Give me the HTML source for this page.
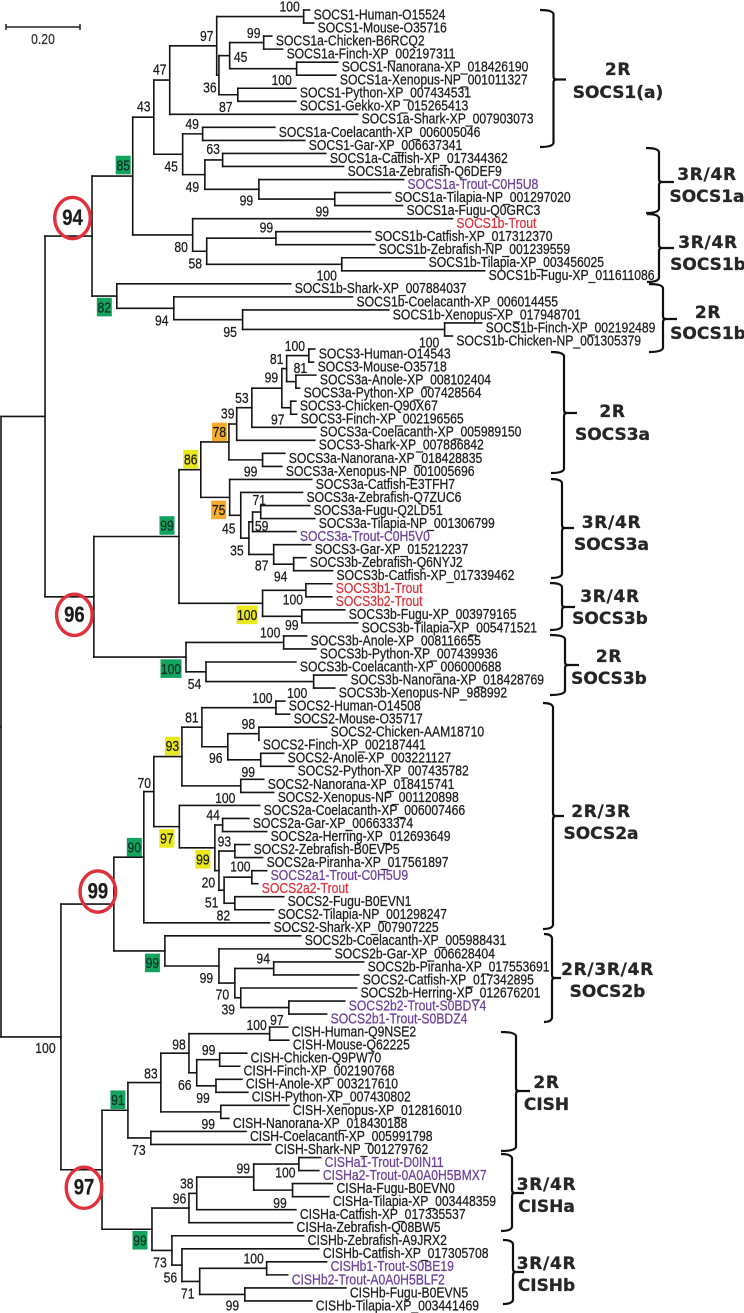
<!DOCTYPE html>
<html lang="en">
<head>
<meta charset="utf-8">
<title>SOCS family phylogenetic tree</title>
<style>
  html, body { margin: 0; padding: 0; background: #fff; }
  #tree { display: block; width: 744px; height: 1313px; background: #fff; }
  .narrow { font-family: "Liberation Sans", Arial, sans-serif; font-size: 14.5px; fill: #1c1c1c; }
  .clade { font-family: "DejaVu Sans", "Liberation Sans", sans-serif; font-weight: 700; font-size: 17px; fill: #262626; stroke: #262626; stroke-width: 0.3px; text-anchor: middle; }
</style>
</head>
<body>
<svg id="tree" xmlns="http://www.w3.org/2000/svg" width="744" height="1313" viewBox="0 0 744 1313"></svg>
<script>
// ---------- DATA ----------
// Taxa in tree order (top to bottom).
const taxa = [
"SOCS1-Human-O15524","SOCS1-Mouse-O35716","SOCS1a-Chicken-B6RCQ2","SOCS1a-Finch-XP_002197311","SOCS1-Nanorana-XP_018426190",
"SOCS1a-Xenopus-NP_001011327","SOCS1-Python-XP_007434531","SOCS1-Gekko-XP_015265413","SOCS1a-Shark-XP_007903073","SOCS1a-Coelacanth-XP_006005046",
"SOCS1-Gar-XP_006637341","SOCS1a-Catfish-XP_017344362","SOCS1a-Zebrafish-Q6DEF9","SOCS1a-Trout-C0H5U8","SOCS1a-Tilapia-NP_001297020",
"SOCS1a-Fugu-Q0GRC3","SOCS1b-Trout","SOCS1b-Catfish-XP_017312370","SOCS1b-Zebrafish-NP_001239559","SOCS1b-Tilapia-XP_003456025",
"SOCS1b-Fugu-XP_011611086","SOCS1b-Shark-XP_007884037","SOCS1b-Coelacanth-XP_006014455","SOCS1b-Xenopus-XP_017948701","SOCS1b-Finch-XP_002192489",
"SOCS1b-Chicken-NP_001305379","SOCS3-Human-O14543","SOCS3-Mouse-O35718","SOCS3a-Anole-XP_008102404","SOCS3a-Python-XP_007428564",
"SOCS3-Chicken-Q90X67","SOCS3-Finch-XP_002196565","SOCS3a-Coelacanth-XP_005989150","SOCS3-Shark-XP_007886842","SOCS3a-Nanorana-XP_018428835",
"SOCS3a-Xenopus-NP_001005696","SOCS3a-Catfish-E3TFH7","SOCS3a-Zebrafish-Q7ZUC6","SOCS3a-Fugu-Q2LD51","SOCS3a-Tilapia-NP_001306799",
"SOCS3a-Trout-C0H5V0","SOCS3-Gar-XP_015212237","SOCS3b-Zebrafish-Q6NYJ2","SOCS3b-Catfish-XP_017339462","SOCS3b1-Trout",
"SOCS3b2-Trout","SOCS3b-Fugu-XP_003979165","SOCS3b-Tilapia-XP_005471521","SOCS3b-Anole-XP_008116655","SOCS3b-Python-XP_007439936",
"SOCS3b-Coelacanth-XP_006000688","SOCS3b-Nanorana-XP_018428769","SOCS3b-Xenopus-NP_988992","SOCS2-Human-O14508","SOCS2-Mouse-O35717",
"SOCS2-Chicken-AAM18710","SOCS2-Finch-XP_002187441","SOCS2-Anole-XP_003221127","SOCS2-Python-XP_007435782","SOCS2-Nanorana-XP_018415741",
"SOCS2-Xenopus-NP_001120898","SOCS2a-Coelacanth-XP_006007466","SOCS2a-Gar-XP_006633374","SOCS2a-Herring-XP_012693649","SOCS2-Zebrafish-B0EVP5",
"SOCS2a-Piranha-XP_017561897","SOCS2a1-Trout-C0H5U9","SOCS2a2-Trout","SOCS2-Fugu-B0EVN1","SOCS2-Tilapia-NP_001298247",
"SOCS2-Shark-XP_007907225","SOCS2b-Coelacanth-XP_005988431","SOCS2b-Gar-XP_006628404","SOCS2b-Piranha-XP_017553691","SOCS2-Catfish-XP_017342895",
"SOCS2b-Herring-XP_012676201","SOCS2b2-Trout-S0BDY4","SOCS2b1-Trout-S0BDZ4","CISH-Human-Q9NSE2","CISH-Mouse-Q62225",
"CISH-Chicken-Q9PW70","CISH-Finch-XP_002190768","CISH-Anole-XP_003217610","CISH-Python-XP_007430802","CISH-Xenopus-XP_012816010",
"CISH-Nanorana-XP_018430188","CISH-Coelacanth-XP_005991798","CISH-Shark-NP_001279762","CISHa1-Trout-D0IN11","CISHa2-Trout-0A0A0H5BMX7",
"CISHa-Fugu-B0EVN0","CISHa-Tilapia-XP_003448359","CISHa-Catfish-XP_017335537","CISHa-Zebrafish-Q08BW5","CISHb-Zebrafish-A9JRX2",
"CISHb-Catfish-XP_017305708","CISHb1-Trout-S0BE19","CISHb2-Trout-A0A0H5BLF2","CISHb-Fugu-B0EVN5","CISHb-Tilapia-XP_003441469"
];

// Root-to-tip distance of each taxon, in 0.01 substitutions/site.
const leafDepths = [
83.4,84.5,73.2,76.1,91.0,90.5,79.7,79.7,96.4,74.0,
82.1,87.8,92.6,108.8,105.3,108.5,122.0,99.9,101.0,114.5,
130.7,78.3,95.0,104.8,129.9,122.0,84.8,84.5,85.1,80.7,
79.7,79.9,85.1,84.8,76.7,75.9,84.0,81.5,83.4,84.8,
79.7,83.7,82.4,89.6,89.4,89.4,92.9,96.4,82.6,85.1,
79.7,93.4,90.2,76.7,78.0,88.0,69.7,76.4,79.1,71.0,
73.7,69.9,67.0,71.8,67.2,70.7,71.8,69.4,76.4,73.7,
72.6,81.0,89.1,98.0,96.7,96.1,92.9,88.0,77.5,77.8,
66.4,64.5,65.1,66.7,77.8,61.6,66.2,72.9,86.4,85.9,
89.6,88.6,79.7,78.8,81.8,85.9,88.0,77.5,93.2,84.0
];

// Tree shape: "(" opens an internal node (preorder), "L" is the next taxon.
const topologyParts = [
"(((",                                   // root, node 1, node 2
"(",                                     // node 3
"(",                                     // node 4
"(((LL)(((LL)(LL))(LL)))L)",
"((LL)((LL)(L(LL))))",
")",
"(L((LL)(LL)))",
")",
"(L(L(L(LL))))",
")",
"(",                                     // node 27
"(",
"(",
"(",
"(((((LL)(LL))(LL))L)L)",
"(LL)",
")",
"(L(L(((LL)L)(L(LL)))))",
")",
"((LL)(LL))",
")",
"((LL)(L(LL)))",
")",
")",
"(",                                     // node 53
"(",
"(",
"(",
"(",
"((LL)((LL)(LL)))",
"(LL)",
")",
"(L((LL)((LL)((LL)(LL)))))",
")",
"L)",
"(L(L((LL)(L(LL)))))",
")",
"(",                                     // node 78
"(",
"(",
"((LL)((LL)(LL)))",
"(LL)",
")",
"(LL)",
")",
"(",
"((((LL)(LL))L)L)",
"(L(L((LL)(LL))))",
")",
")",
")",
")"
];

// Internal nodes in preorder: root-to-node distance (0.01 subs/site).
const nodeDepths = [
0,11.9,24.6,35.6,41.3,45.6,58.3,81.8,58.9,61.8,
71.0,79.9,64.0,49.1,54.5,55.1,59.9,69.7,90.2,51.8,
55.6,74.3,92.1,31.3,46.7,65.3,119.9,25.1,48.1,54.0,
61.6,63.7,67.8,75.9,77.2,83.2,79.7,78.3,70.7,61.8,
64.8,67.0,68.0,70.2,73.7,79.1,70.7,82.4,81.3,50.0,
76.4,55.4,84.5,16.2,30.5,38.6,41.3,48.9,54.3,74.3,
61.3,69.7,70.2,64.8,48.2,57.8,59.9,58.9,63.2,60.3,
67.8,63.2,44.3,58.9,63.2,73.7,64.8,77.8,27.3,34.3,
43.2,50.8,72.6,52.9,59.1,58.1,59.4,40.5,40.8,50.8,
52.9,68.3,80.5,78.8,46.2,48.9,53.7,71.8,65.9
];

// Bootstrap support for each internal node (preorder).
const nodeSupport = [
null,null,94,85,43,47,97,100,36,45,
99,100,87,45,49,49,63,99,99,80,
58,99,100,82,94,95,100,96,99,86,
78,39,53,99,81,100,81,97,99,75,
45,35,59,71,87,94,100,100,99,100,
100,54,100,100,99,90,70,93,81,100,
96,98,99,100,97,99,44,20,93,51,
100,82,99,99,70,94,39,97,97,91,
83,98,100,66,99,99,99,73,99,96,
38,99,100,99,73,56,71,100,99
];

// Which nodes carry which highlight (indices into the preorder arrays).
const circledNodes = [2,27,54,78];
const greenNodes = [3,23,28,49,55,72,79,88];
const yellowNodes = [29,46,57,64,65];
const orangeNodes = [30,39];

// Hand placement of each support label relative to its node (annotation layout, not data).
const supportLabelNudges = [
[0,0],[0,0],[-19.5,-18],[-9.5,-11],[-10,-11],[-10,-11],[-10,-10],[-14,-10],[-9,12],[11,1],
[-10,-10],[-15,11],[-12,12],[-11.5,12],[-10.5,-10],[-12.5,12],[-9.5,-11],[-12.5,11],[-12.5,12],[-11.5,12],
[-11.5,12],[-9.5,-11],[-15,11],[-12.5,11],[-12,12],[-12.5,12],[-15.5,13],[-19.5,18],[-12,-11],[-10,-10.5],
[-9.5,-10],[-9,-10.6],[-10,-10],[-10.5,-11],[-10,-10],[-14,-10],[4.5,-14],[-13,11.5],[-12,11.5],[-11,12.5],
[-12,13],[-12,12],[9,4],[-1.5,-12],[-12,11],[-13,12],[-15.5,11.5],[-13,9],[-10,8.5],[-15,11.5],
[-13.5,-10],[-11.5,12],[-16.5,11],[-15.5,11],[-16,-12.5],[-9.5,-10],[-9.5,-9],[-9.5,-10.5],[-10,-10],[-13.5,-10],
[-12,11],[-10.5,-10],[-12.5,12],[-15.5,12],[-12.5,11.8],[-12,11.5],[-9.5,-10],[-10.5,11.5],[-10.5,-10],[-12.5,12],
[-11.5,-11],[-11.5,12],[-12.5,12],[-12.5,12],[-12.5,11],[-10.5,-10],[-12.5,11.3],[-12,12],[-18,18],[-10,-10.5],
[-10,-9],[-10,-9],[-13,-9],[-12,12],[-11,-10],[-13,12],[-12.5,12],[-12,12],[-12,11],[-9.5,-10],
[-10,-10],[-10.5,-9],[-13.5,8.5],[-12.5,12.5],[-12,12],[-11.5,12],[-12,12],[-13,-10],[-12.5,11]
];

// Clade annotations: [title lines], brace geometry is annotation layout.
const cladeTitles = [
["2R","SOCS1(a)"],["3R/4R","SOCS1a"],["3R/4R","SOCS1b"],["2R","SOCS1b"],["2R","SOCS3a"],["3R/4R","SOCS3a"],["3R/4R","SOCS3b"],
["2R","SOCS3b"],["2R/3R","SOCS2a"],["2R/3R/4R","SOCS2b"],["2R","CISH"],["3R/4R","CISHa"],["3R/4R","CISHb"]
];
const cladeBraces = [
// left, spine, top, bottom, nibY, nibX
[540,553.5,10,147,79.5,566],[646,659,148,213,182,674],[647,659,214,282,248,674],[649,663,284,352,319,677],
[551,564,352,473,413,577],[551,562,479,578,528,574],[550,562,583,630,607,575],[550,565,635,695,665,579],
[543,553,703,929,816,564],[544,552,934,1022,978,561],[501,516,1032,1151,1091,530],[501,512,1154,1231,1193,524],[503,513,1240,1304,1272,524]
];
const cladeTitlePositions = [
// centreX, line1 centreY, line2 centreY
[618,69,92],[707,174,196],[708,242,264],[708,312,333],[612.5,411,434],[611.5,522,544],[610,596,618],
[609,656,678],[601,811,833],[607.5,969,991],[546.5,1082,1104],[546.5,1184,1206],[546.5,1263,1285]
];

const scaleBarValue = 20;       // 0.20 subs/site, in the same 0.01 units
const scaleBarLabel = "0.20";

// ---------- AXES ----------
const PX_PER_UNIT = 3.7;
const X_ORIGIN = 1;
function xScale(depth) { return X_ORIGIN + depth * PX_PER_UNIT; }
function yScale(row) { return 10 + row * 13.04; }

// ---------- HELPERS ----------
const svg = document.getElementById('tree');
const NS = 'http://www.w3.org/2000/svg';
const H_SCALE = 0.84;

function make(tag, attrs, parent) {
  const el = document.createElementNS(NS, tag);
  for (const k in attrs) el.setAttribute(k, attrs[k]);
  (parent || svg).appendChild(el);
  return el;
}
function narrowText(str, x, y, anchor, fill, size, weight) {
  const color = fill || '#1c1c1c';
  const t = make('text', {
    'class': 'narrow',
    transform: 'translate(' + x + ',' + y + ') scale(' + H_SCALE + ',1)',
    'text-anchor': anchor,
    stroke: color,
    'stroke-width': 0.25
  });
  t.style.fill = color;
  if (size) t.style.fontSize = size + 'px';
  if (weight) t.style.fontWeight = weight;
  t.textContent = str;
  return t;
}

// ---------- PARSE TOPOLOGY ----------
function parseTree(src) {
  let pos = 0, nodeIdx = 0, leafIdx = 0;
  function readNode() {
    if (src[pos] === 'L') {
      pos++;
      const leaf = { leaf: leafIdx, x: xScale(leafDepths[leafIdx]), y: yScale(leafIdx) };
      leafIdx++;
      return leaf;
    }
    pos++; // "("
    const idx = nodeIdx++;
    const kids = [];
    while (src[pos] !== ')') kids.push(readNode());
    pos++; // ")"
    return {
      id: idx,
      kids: kids,
      x: xScale(nodeDepths[idx]),
      y: (kids[0].y + kids[kids.length - 1].y) / 2
    };
  }
  return readNode();
}
const root = parseTree(topologyParts.join(''));

// ---------- DRAW BRANCHES ----------
const branchStyle = { stroke: '#141414', 'stroke-width': 1.6, fill: 'none', 'stroke-linecap': 'square' };
const internals = [];
function drawNode(n) {
  internals.push(n);
  const first = n.kids[0], last = n.kids[n.kids.length - 1];
  const v = make('line', Object.assign({ x1: n.x, x2: n.x, y1: first.y, y2: last.y }, branchStyle));
  
  
  n.kids.forEach(function (k) {
    const h = make('line', Object.assign({ x1: n.x, x2: k.x, y1: k.y, y2: k.y }, branchStyle));
    
    
    if (k.kids) drawNode(k);
  });
}
drawNode(root);
const stub = make('line', Object.assign({ x1: 0, x2: root.x, y1: root.y, y2: root.y }, branchStyle));



// ---------- TAXON LABELS ----------
taxa.forEach(function (name, i) {
  let color = '#1c1c1c';
  if (/-Trout$/.test(name)) color = '#d8343f';
  else if (/-Trout-/.test(name)) color = '#6c4398';
  const t = narrowText(name, xScale(leafDepths[i]) + 4, yScale(i) + 9.4, 'start', color);
  
  
});

// ---------- SUPPORT VALUES ----------
internals.forEach(function (n) {
  const value = nodeSupport[n.id];
  if (value === null) return;
  const nudge = supportLabelNudges[n.id];
  const cx = n.x + nudge[0], cy = n.y + nudge[1];
  const str = String(value);
  if (circledNodes.indexOf(n.id) >= 0) {
    const ring = make('ellipse', { cx: cx, cy: cy, rx: 17.8, ry: 20.6, fill: 'none', stroke: '#df303c', 'stroke-width': 3.4 });
    
    
    const big = narrowText(str, cx, cy + 7, 'middle', '#1c1c1c', 22, 700);
    
    
    return;
  }
  let fill = null;
  if (greenNodes.indexOf(n.id) >= 0) fill = '#12a45f';
  else if (yellowNodes.indexOf(n.id) >= 0) fill = '#e9e81c';
  else if (orangeNodes.indexOf(n.id) >= 0) fill = '#f8ab2c';
  if (fill) {
    const w = str.length > 2 ? 21 : 15;
    const box = make('rect', { x: cx - w / 2, y: cy - 9.3, width: w, height: 18.6, fill: fill });
    
    
  }
  const label = narrowText(str, cx, cy + 5.2, 'middle', fill === '#12a45f' ? '#0c3323' : '#1c1c1c');
  
  
});

// ---------- CLADE BRACES ----------
cladeBraces.forEach(function (b, i) {
  const left = b[0], spine = b[1], top = b[2], bottom = b[3], nibY = b[4], nibX = b[5];
  const d = 'M' + left + ' ' + top + ' Q' + (spine - 1) + ' ' + top + ' ' + spine + ' ' + (top + 4) +
            ' L' + spine + ' ' + (nibY - 3) + ' Q' + spine + ' ' + nibY + ' ' + (spine + 3) + ' ' + nibY +
            ' L' + nibX + ' ' + nibY +
            ' M' + (spine + 3) + ' ' + nibY + ' Q' + spine + ' ' + nibY + ' ' + spine + ' ' + (nibY + 3) +
            ' L' + spine + ' ' + (bottom - 4) + ' Q' + (spine - 1) + ' ' + bottom + ' ' + left + ' ' + bottom;
  const p = make('path', { d: d, fill: 'none', stroke: '#111', 'stroke-width': 2.2 });
  
  
  const pos = cladeTitlePositions[i];
  cladeTitles[i].forEach(function (line, j) {
    const t = make('text', { 'class': 'clade', x: pos[0], y: pos[j + 1] + 6.2 });
    if (j === 0) t.setAttribute('letter-spacing', '0.7');
    t.textContent = line;
    
    
  });
});

// ---------- SCALE BAR ----------
const barX1 = 6, barX2 = barX1 + scaleBarValue * PX_PER_UNIT, barY = 27;
const bar = make('path', {
  d: 'M' + barX1 + ' ' + (barY - 3) + ' V' + (barY + 3) + ' M' + barX1 + ' ' + barY + ' H' + barX2 +
     ' M' + barX2 + ' ' + (barY - 3) + ' V' + (barY + 3),
  stroke: '#222', 'stroke-width': 1.5, fill: 'none'
});


const barLabel = narrowText(scaleBarLabel, (barX1 + barX2) / 2, 44, 'middle', '#333');


</script>
</body>
</html>
